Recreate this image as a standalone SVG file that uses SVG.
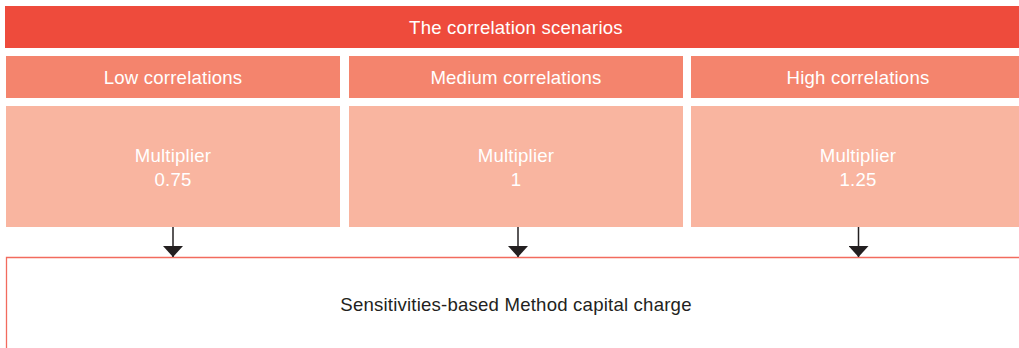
<svg xmlns="http://www.w3.org/2000/svg" width="1019" height="348" viewBox="0 0 1019 348">
<style>
text{font-family:"Liberation Sans",Arial,sans-serif;font-size:18.6px;letter-spacing:0.2px;text-anchor:middle;fill:#fff}
.top{fill:#EE4B3C}
.hd{fill:#F4846D}
.bd{fill:#F9B5A0}
.cn{stroke:#231f20;stroke-width:1.5;fill:none}
</style>
<defs>
<marker id="ah" markerWidth="11" markerHeight="20" refX="11" refY="10" orient="auto" markerUnits="userSpaceOnUse" viewBox="0 0 11 20">
<path d="M0,0 L11,10 L0,20 Z" fill="#231f20"/>
</marker>
</defs>
<g id="title"><rect class="top" x="5" y="6" width="1014" height="42"/><text x="516" y="34">The correlation scenarios</text></g>
<g id="low-head"><rect class="hd" x="6" y="56" width="334" height="42"/><text x="173" y="84">Low correlations</text></g>
<g id="med-head"><rect class="hd" x="349" y="56" width="334" height="42"/><text x="516" y="84">Medium correlations</text></g>
<g id="high-head"><rect class="hd" x="691" y="56" width="328" height="42"/><text x="858" y="84">High correlations</text></g>
<g id="low-body"><rect class="bd" x="6" y="106" width="334" height="121"/><text x="173" y="162">Multiplier</text><text x="173" y="186">0.75</text></g>
<g id="med-body"><rect class="bd" x="349" y="106" width="334" height="121"/><text x="516" y="162">Multiplier</text><text x="516" y="186">1</text></g>
<g id="high-body"><rect class="bd" x="691" y="106" width="328" height="121"/><text x="858" y="162">Multiplier</text><text x="858" y="186">1.25</text></g>
<g id="result"><path d="M1020,257.5 H6.5 V349" fill="none" stroke="#F26B5E" stroke-width="1.3"/><text x="516" y="311" style="fill:#231f20">Sensitivities-based Method capital charge</text></g>
<g id="connectors">
<line class="cn" x1="173" y1="227" x2="173" y2="257" marker-end="url(#ah)"/>
<line class="cn" x1="518" y1="227" x2="518" y2="257" marker-end="url(#ah)"/>
<line class="cn" x1="858.5" y1="227" x2="858.5" y2="257" marker-end="url(#ah)"/>
</g>
</svg>
